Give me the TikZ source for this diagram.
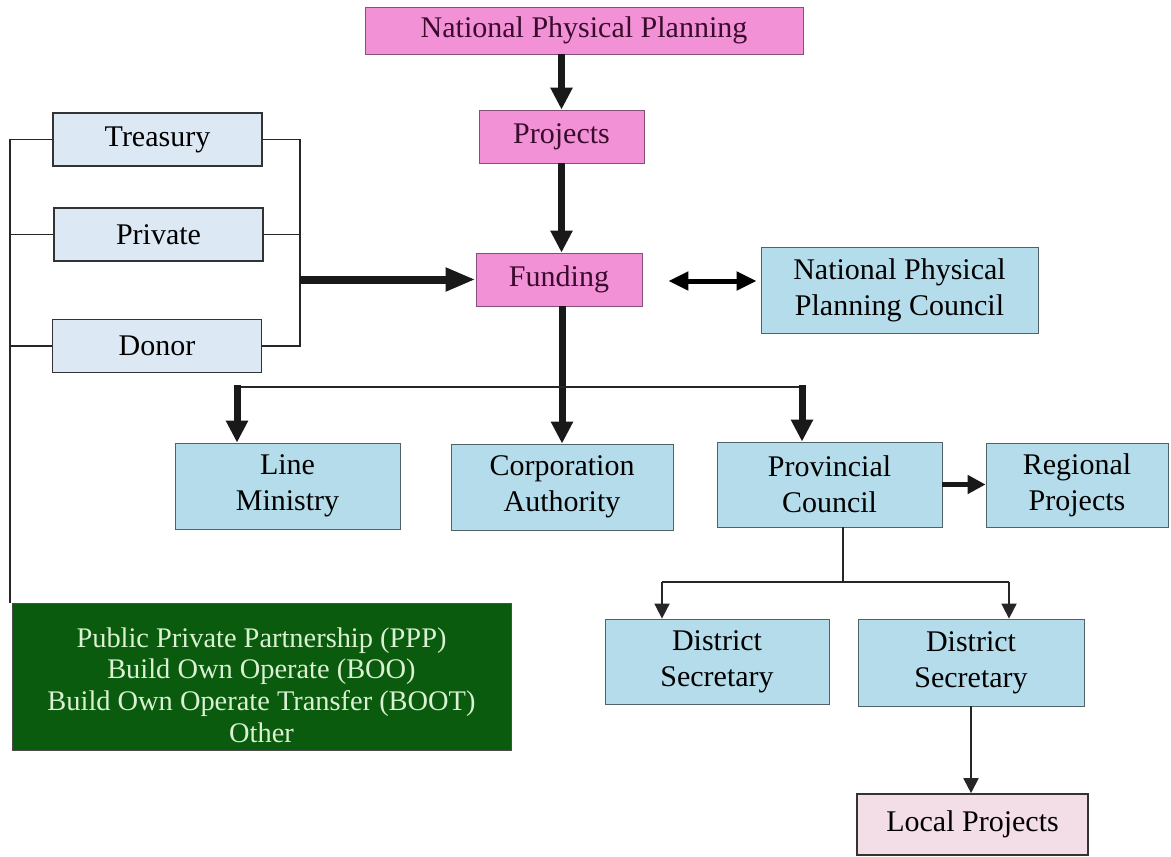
\documentclass[tikz,border=0pt]{standalone}
\usepackage{fontspec}
\setmainfont{Liberation Serif}
\usetikzlibrary{arrows.meta,calc}
\definecolor{pk}{HTML}{F291D6}
\definecolor{pt}{HTML}{3A0B2C}
\definecolor{bl}{HTML}{B5DCEA}
\definecolor{gb}{HTML}{DCE8F4}
\definecolor{lp}{HTML}{F3DDE6}
\definecolor{gr}{HTML}{0B5B0E}
\definecolor{gt}{HTML}{DAF2D2}

\begin{document}
\begin{tikzpicture}[x=0.5pt,y=-0.5pt,font=\fontsize{15}{18}\selectfont,
  box/.style={thin,align=center,inner sep=0pt},
  plan/.style={box,fill=pk,draw=pk!55!black,text=pt},
  unit/.style={box,fill=bl,draw=bl!45!black},
  src/.style={box,fill=gb,draw=black!80,line width=0.8pt,minimum width=104.5pt,minimum height=26.5pt},
  fat/.style={-{Triangle[length=11pt,width=10.5pt]},line width=3.5pt,draw=black!90},
  lnk/.style={line width=0.9pt,draw=black!85},
  thinarr/.style={lnk,-{Triangle[length=7.5pt,width=7.5pt]}}]
  \useasboundingbox (0,0) rectangle (1171,856);
  % planning chain
  \node[plan,minimum width=219pt,minimum height=23.5pt] (npp) at (584,30.5) {National Physical Planning};
  \node[plan,minimum width=82.5pt,minimum height=26.5pt] (proj) at (561.5,136.5) {Projects};
  \node[plan,minimum width=83pt,minimum height=26.5pt] (fund) at (559,279.5) {Funding};
  \node[unit,minimum width=138.5pt,minimum height=43pt] (npc) at (899.5,290) {National Physical\\Planning Council};
  % sources of funds
  \node[src] (tre) at (157.5,139.5) {Treasury};
  \node[src] (pri) at (158.5,234.5) {Private};
  \node[src] (don) at (157,346) {Donor};
  \node[box,fill=gr,draw=black!70,text=gt,minimum width=249.5pt,minimum height=73.5pt,
    font=\fontsize{14.2}{15.9}\selectfont] (ppp) at (261.5,676.5)
    {\rule{0pt}{18.5pt}Public Private Partnership (PPP)\\Build Own Operate (BOO)\\Build Own Operate Transfer (BOOT)\\Other};
  % implementing agencies
  \node[unit,minimum width=112.5pt,minimum height=43pt] (lmin) at (287.5,486) {Line\\Ministry};
  \node[unit,minimum width=111pt,minimum height=43pt] (corp) at (562,487) {Corporation\\Authority};
  \node[unit,minimum width=112.5pt,minimum height=42.5pt] (prov) at (829.5,484.5) {Provincial\\Council};
  \node[unit,minimum width=91pt,minimum height=42pt] (reg) at (1077,485) {Regional\\Projects};
  \node[unit,minimum width=112pt,minimum height=42.5pt] (dis1) at (717,661.5) {District\\Secretary};
  \node[unit,minimum width=113pt,minimum height=43.5pt] (dis2) at (971,662.5) {District\\Secretary};
  \node[box,fill=lp,draw=black!80,line width=0.8pt,minimum width=115.5pt,minimum height=30.5pt] (loc) at (972.5,824.5) {Local Projects};

  \coordinate (srcR) at (300,0);
  \coordinate (srcL) at (10,0);
  \coordinate (busL) at (237,387);
  \coordinate (busR) at (802,387);
  \coordinate (dsp) at (843,582);
  \coordinate (dL) at (662,582);
  \coordinate (dR) at (1009,582);

  \draw[fat] (npp.south -| proj.north) -- (proj.north);
  \draw[fat] (proj.south) -- (proj.south |- fund.north);
  \draw[fat] (fund.south -| corp.north) -- (corp.north);
  \draw[line width=2.5pt,{Triangle[length=10pt,width=9pt]}-{Triangle[length=10pt,width=9pt]},
    shorten <=13pt,shorten >=2pt] ([yshift=-0.75pt]fund.east) -- ([yshift=-0.75pt]fund.east -| npc.west);
  % sources bracket
  \draw[lnk] (tre.east) -- (tre.east -| srcR) -- (don.east -| srcR) -- (don.east);
  \draw[lnk] (pri.east) -- (pri.east -| srcR);
  \draw[fat,line width=4pt,-{Triangle[length=15pt,width=11pt]}] (fund.west -| srcR) -- (fund.west);
  \draw[lnk] (tre.west) -- (tre.west -| srcL) -- (srcL |- ppp.north);
  \draw[lnk] (pri.west) -- (pri.west -| srcL);
  \draw[lnk] (don.west) -- (don.west -| srcL);
  % distribution
  \draw[lnk,line width=1.2pt] (busL) -- (busR);
  \draw[fat] ([yshift=1pt]busL) -- (busL |- lmin.north);
  \draw[fat] ([yshift=1pt]busR) -- (busR |- prov.north);
  \draw[fat,line width=2.5pt,-{Triangle[length=9pt,width=9pt]}] (prov.east) -- (prov.east -| reg.west);
  \draw[lnk] (prov.south -| dsp) -- (dsp);
  \draw[lnk] (dL) -- (dR);
  \draw[thinarr] (dL) -- (dL |- dis1.north);
  \draw[thinarr] (dR) -- (dR |- dis2.north);
  \draw[thinarr] (dis2.south) -- (dis2.south |- loc.north);
\end{tikzpicture}
\end{document}
